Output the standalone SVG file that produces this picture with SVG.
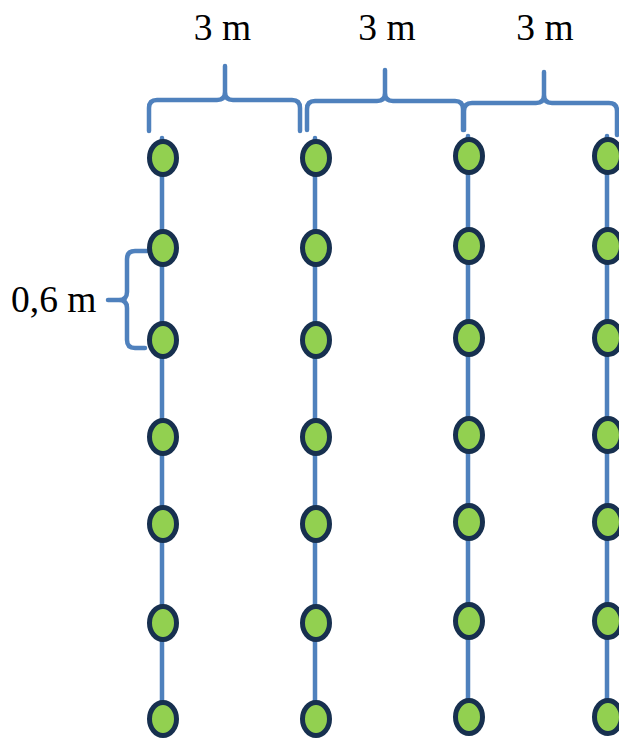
<svg xmlns="http://www.w3.org/2000/svg" width="619" height="738" viewBox="0 0 619 738">
<style>
.ln{stroke:#4f81bd;stroke-width:4.5;fill:none;stroke-linecap:round;stroke-linejoin:round}
.nd{fill:#92d050;stroke:#17304f;stroke-width:5}
.t{font-family:"Liberation Serif",serif;font-size:37.5px;fill:#000}
</style>
<rect width="619" height="738" fill="#fff"/>
<g id="connectors">
<line class="ln" x1="162" y1="138" x2="162" y2="718"/>
<line class="ln" x1="315" y1="138" x2="315" y2="718"/>
<line class="ln" x1="468" y1="136" x2="468" y2="716"/>
<line class="ln" x1="607" y1="136" x2="607" y2="716"/>
</g>
<g id="braces">
<path class="ln" d="M149,131 V108 Q149,100 157,100 H217 Q225,100 225,92 V66 M225,92 Q225,100 233,100 H292 Q300,100 300,108 V131"/>
<path class="ln" d="M307,130 V109 Q307,101 315,101 H377 Q385,101 385,93 V70 M385,93 Q385,101 393,101 H455 Q463,101 463,109 V130"/>
<path class="ln" d="M464,130 V111 Q464,103 472,103 H536 Q544,103 544,95 V72 M544,95 Q544,103 552,103 H609 Q617,103 617,111 V135"/>
<path class="ln" d="M147,251 H135 Q127,251 127,259 V292 Q127,300 119,300 H108 M119,300 Q127,300 127,308 V340 Q127,348 135,348 H145"/>
</g>
<g id="labels">
<text class="t" x="222.5" y="40" text-anchor="middle">3 m</text>
<text class="t" x="387" y="40" text-anchor="middle">3 m</text>
<text class="t" x="545" y="40" text-anchor="middle">3 m</text>
<text class="t" x="11" y="312">0,6 m</text>
</g>
<g id="col1">
<g id="n1-1"><ellipse class="nd" cx="163" cy="158" rx="13.5" ry="16.5"/></g>
<g id="n1-2"><ellipse class="nd" cx="163" cy="248" rx="13.5" ry="16.5"/></g>
<g id="n1-3"><ellipse class="nd" cx="163" cy="340" rx="13.5" ry="16.5"/></g>
<g id="n1-4"><ellipse class="nd" cx="163" cy="437" rx="13.5" ry="16.5"/></g>
<g id="n1-5"><ellipse class="nd" cx="163" cy="524" rx="13.5" ry="16.5"/></g>
<g id="n1-6"><ellipse class="nd" cx="163" cy="623" rx="13.5" ry="16.5"/></g>
<g id="n1-7"><ellipse class="nd" cx="163" cy="719" rx="13.5" ry="16.5"/></g>
</g>
<g id="col2">
<g id="n2-1"><ellipse class="nd" cx="316" cy="158" rx="13.5" ry="16.5"/></g>
<g id="n2-2"><ellipse class="nd" cx="316" cy="248" rx="13.5" ry="16.5"/></g>
<g id="n2-3"><ellipse class="nd" cx="316" cy="340" rx="13.5" ry="16.5"/></g>
<g id="n2-4"><ellipse class="nd" cx="316" cy="437" rx="13.5" ry="16.5"/></g>
<g id="n2-5"><ellipse class="nd" cx="316" cy="524" rx="13.5" ry="16.5"/></g>
<g id="n2-6"><ellipse class="nd" cx="316" cy="623" rx="13.5" ry="16.5"/></g>
<g id="n2-7"><ellipse class="nd" cx="316" cy="719" rx="13.5" ry="16.5"/></g>
</g>
<g id="col3">
<g id="n3-1"><ellipse class="nd" cx="469" cy="156" rx="13.5" ry="16.5"/></g>
<g id="n3-2"><ellipse class="nd" cx="469" cy="246" rx="13.5" ry="16.5"/></g>
<g id="n3-3"><ellipse class="nd" cx="469" cy="338" rx="13.5" ry="16.5"/></g>
<g id="n3-4"><ellipse class="nd" cx="469" cy="435" rx="13.5" ry="16.5"/></g>
<g id="n3-5"><ellipse class="nd" cx="469" cy="522" rx="13.5" ry="16.5"/></g>
<g id="n3-6"><ellipse class="nd" cx="469" cy="621" rx="13.5" ry="16.5"/></g>
<g id="n3-7"><ellipse class="nd" cx="469" cy="717" rx="13.5" ry="16.5"/></g>
</g>
<g id="col4">
<g id="n4-1"><ellipse class="nd" cx="608" cy="156" rx="13.5" ry="16.5"/></g>
<g id="n4-2"><ellipse class="nd" cx="608" cy="246" rx="13.5" ry="16.5"/></g>
<g id="n4-3"><ellipse class="nd" cx="608" cy="338" rx="13.5" ry="16.5"/></g>
<g id="n4-4"><ellipse class="nd" cx="608" cy="435" rx="13.5" ry="16.5"/></g>
<g id="n4-5"><ellipse class="nd" cx="608" cy="522" rx="13.5" ry="16.5"/></g>
<g id="n4-6"><ellipse class="nd" cx="608" cy="621" rx="13.5" ry="16.5"/></g>
<g id="n4-7"><ellipse class="nd" cx="608" cy="717" rx="13.5" ry="16.5"/></g>
</g>
</svg>
